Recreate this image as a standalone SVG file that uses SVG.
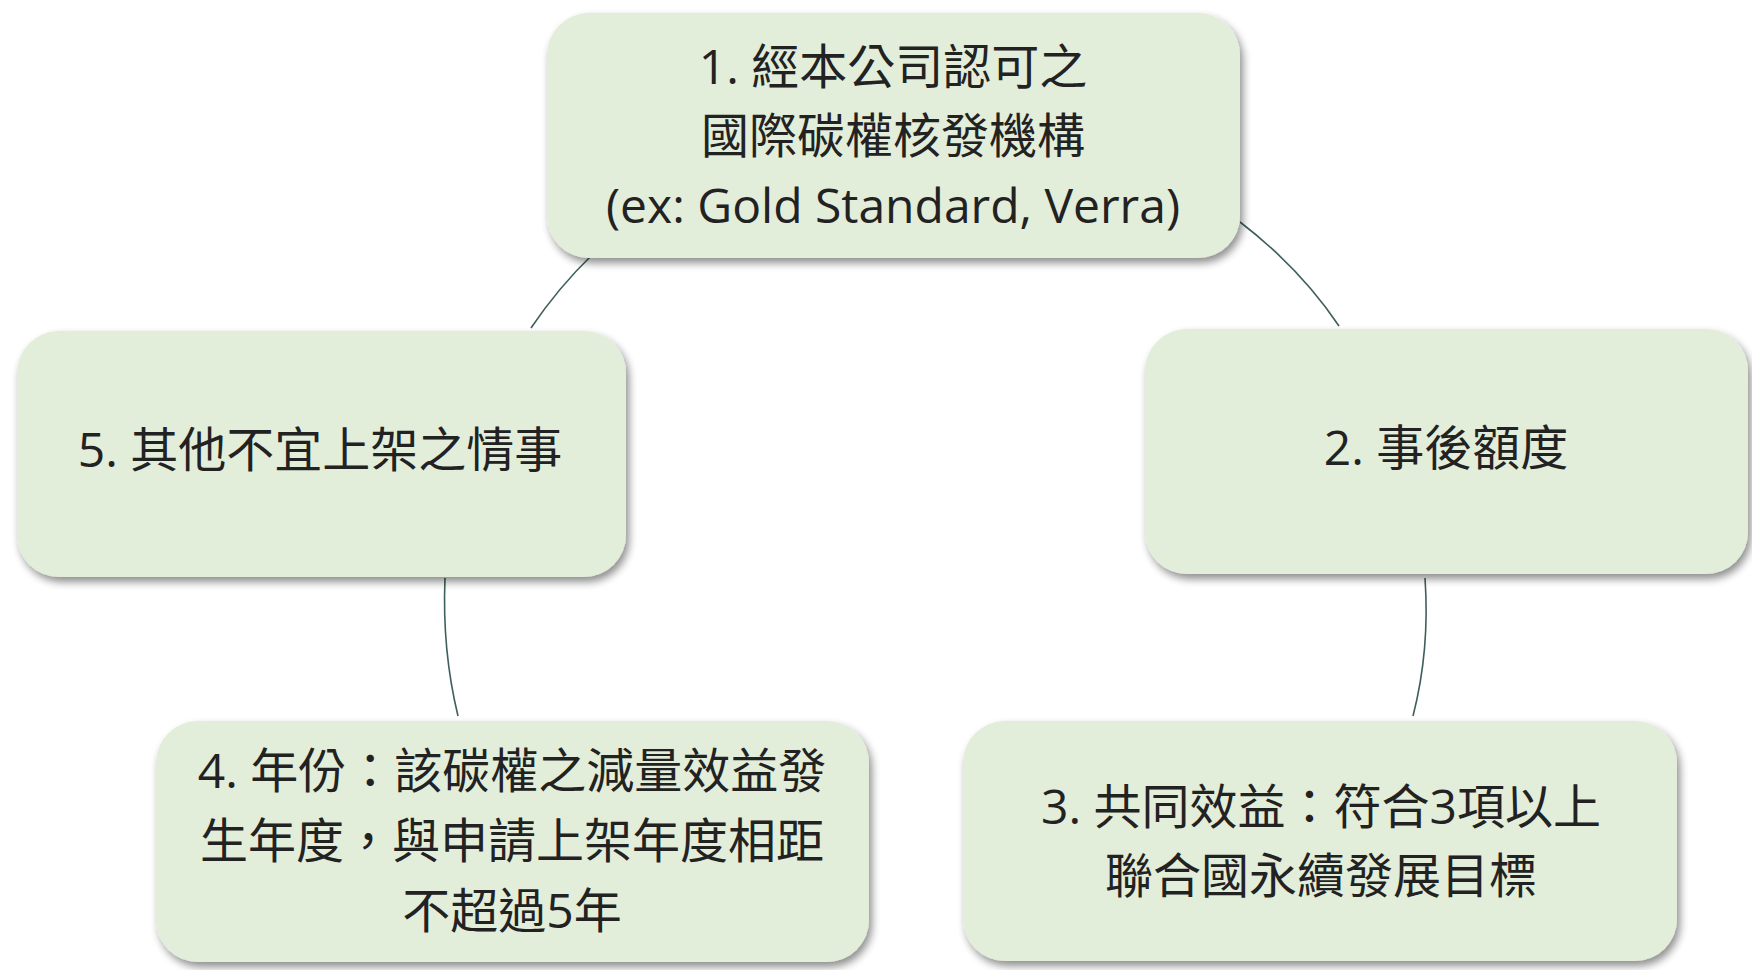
<svg xmlns="http://www.w3.org/2000/svg" width="1752" height="970" viewBox="0 0 1752 970">
<defs>
<filter id="sh" x="-10%" y="-10%" width="125%" height="130%">
<feGaussianBlur in="SourceAlpha" stdDeviation="4"/>
<feOffset dx="3" dy="5" result="b"/>
<feComponentTransfer><feFuncA type="linear" slope="0.45"/></feComponentTransfer>
<feMerge><feMergeNode/><feMergeNode in="SourceGraphic"/></feMerge>
</filter>
</defs>
<style>
.box{fill:#e2edda;filter:url(#sh);}
.t{font-family:"Open Sans","Noto Sans CJK TC",sans-serif;font-size:48px;fill:#222;text-anchor:middle;}
.c{fill:none;stroke:#3f5f5c;stroke-width:1.6;}
</style>
<rect width="1752" height="970" fill="#ffffff"/>
<g id="connectors">
<path class="c" d="M592,255 Q558,288 531,328"/>
<path class="c" d="M1240,222 Q1300,268 1339,326"/>
<path class="c" d="M1425,578 Q1430,650 1413,716"/>
<path class="c" d="M445,578 Q442,650 458,716"/>
</g>
<g id="node1">
<rect class="box" x="547" y="13" width="693" height="245" rx="42"/>
<text class="t" x="893" y="84">1. 經本公司認可之</text>
<text class="t" x="893" y="153">國際碳權核發機構</text>
<text class="t" x="893" y="223">(ex: Gold Standard, Verra)</text>
</g>
<g id="node2">
<rect class="box" x="1145" y="329" width="603" height="245" rx="42"/>
<text class="t" x="1446" y="465">2. 事後額度</text>
</g>
<g id="node3">
<rect class="box" x="963" y="721" width="714" height="240" rx="42"/>
<text class="t" x="1321" y="824">3. 共同效益：符合3項以上</text>
<text class="t" x="1321" y="893">聯合國永續發展目標</text>
</g>
<g id="node4">
<rect class="box" x="156" y="721" width="713" height="241" rx="42"/>
<text class="t" x="512" y="788">4. 年份：該碳權之減量效益發</text>
<text class="t" x="512" y="858">生年度，與申請上架年度相距</text>
<text class="t" x="512" y="928">不超過5年</text>
</g>
<g id="node5">
<rect class="box" x="17" y="331" width="609" height="246" rx="42"/>
<text class="t" x="320" y="467">5. 其他不宜上架之情事</text>
</g>
</svg>
